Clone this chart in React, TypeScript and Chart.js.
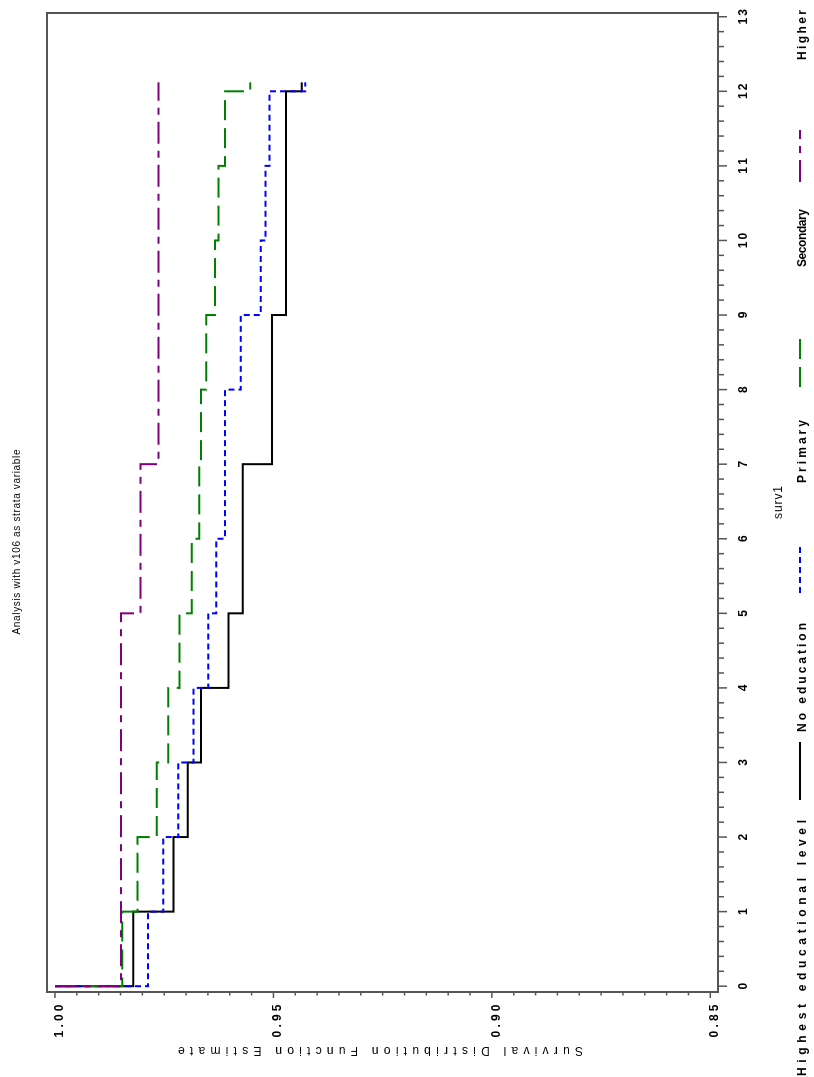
import React, { useEffect, useRef } from 'react';
import { Chart, registerables } from 'chart.js';

Chart.register(...registerables);

// ---------- data ----------
const noEduTimes = [0, 0, 1, 2, 3, 4, 5, 7, 9, 12, 12.12];
const noEduSurv = [1, 0.9821, 0.9729, 0.9696, 0.9666, 0.9603, 0.957, 0.9503, 0.9471, 0.9435, 0.9435];

const primaryTimes = [0, 0, 1, 2, 3, 4, 5, 6, 8, 9, 10, 11, 12, 12.12];
const primarySurv = [1, 0.9787, 0.9752, 0.9718, 0.9683, 0.9649, 0.9631, 0.9611, 0.9575, 0.9529, 0.9518, 0.9509, 0.9427, 0.9427];

const secondaryTimes = [0, 0, 1, 2, 3, 4, 5, 6, 7, 8, 9, 10, 11, 12, 12.12];
const secondarySurv = [1, 0.9846, 0.9811, 0.9767, 0.9741, 0.9715, 0.9687, 0.967, 0.9666, 0.9654, 0.9634, 0.9626, 0.9611, 0.9553, 0.9553];

const higherTimes = [0, 0, 5, 7, 12.12];
const higherSurv = [1, 0.9849, 0.9804, 0.9763, 0.9763];

const timeTickValues = [0, 1, 2, 3, 4, 5, 6, 7, 8, 9, 10, 11, 12, 13];
const timeTickLabels = ['0', '1', '2', '3', '4', '5', '6', '7', '8', '9', '10', '11', '12', '13'];
const survTickValues = [0.85, 0.9, 0.95, 1.0];
const survTickLabels = ['0.85', '0.90', '0.95', '1.00'];

const seriesNames = ['No education', 'Primary', 'Secondary', 'Higher'];
const legendTitle = 'Highest educational level';
const chartTitle = 'Analysis with v106 as strata variable';
const xTitle = 'surv1';
const yTitle = 'Survival Distribution Function Estimate';

// ---------- styles ----------
const colors = ['#000000', '#0000ff', '#008000', '#800080'];
const dashes: number[][] = [[], [6, 4], [20, 8], [22, 7, 7, 7]];
const FONT = '"Liberation Sans", Arial, sans-serif';
const axisColor = '#555555';

function toPoints(ts: number[], ss: number[]) {
  return ts.map((t, i) => ({ x: t, y: ss[i] }));
}

function drawText(
  ctx: CanvasRenderingContext2D,
  text: string,
  x: number,
  y: number,
  font: string,
  align: 'left' | 'center' | 'right',
  width?: number,
  color = '#000'
) {
  const c: any = ctx;
  ctx.font = font;
  if ('letterSpacing' in c) c.letterSpacing = '0px';
  const base = ctx.measureText(text).width;
  let sp = 0;
  if (width != null && text.length > 1 && 'letterSpacing' in c) sp = (width - base) / (text.length - 1);
  const total = base + sp * (text.length - 1);
  const sx = align === 'left' ? x : align === 'center' ? x - total / 2 : x - total;
  if ('letterSpacing' in c) c.letterSpacing = sp + 'px';
  ctx.textAlign = 'left';
  ctx.textBaseline = 'alphabetic';
  ctx.fillStyle = color;
  ctx.fillText(text, sx, y);
  if ('letterSpacing' in c) c.letterSpacing = '0px';
}

const sasAxes = {
  id: 'sasAxes',
  afterDraw(chart: any) {
    const ctx: CanvasRenderingContext2D = chart.ctx;
    const { left, right, top, bottom } = chart.chartArea;
    const xs = chart.scales.x;
    const ys = chart.scales.y;
    ctx.save();

    // frame
    ctx.strokeStyle = axisColor;
    ctx.lineWidth = 2;
    ctx.setLineDash([]);
    ctx.strokeRect(left, top, right - left, bottom - top);

    // time axis ticks (bottom)
    ctx.lineWidth = 1.5;
    for (let i = 0; i <= 65; i++) {
      const v = i * 0.2;
      const px = xs.getPixelForValue(v);
      const major = i % 5 === 0;
      ctx.beginPath();
      ctx.moveTo(px, bottom);
      ctx.lineTo(px, bottom + (major ? 9 : 6));
      ctx.stroke();
    }
    // survival axis ticks (left)
    for (let i = 0; i <= 30; i++) {
      const v = 0.85 + i * 0.005;
      const py = ys.getPixelForValue(v);
      const major = i % 10 === 0;
      ctx.beginPath();
      ctx.moveTo(left, py);
      ctx.lineTo(left - (major ? 6 : 3.5), py);
      ctx.stroke();
    }

    // tick labels
    const tickFont = 'bold 12px ' + FONT;
    timeTickValues.forEach((v, i) => {
      const lab = timeTickLabels[i];
      drawText(ctx, lab, xs.getPixelForValue(v), bottom + 29, tickFont, 'center', lab.length > 1 ? 15.5 : undefined);
    });
    survTickValues.forEach((v, i) => {
      drawText(ctx, survTickLabels[i], left - 29, ys.getPixelForValue(v) + 8, tickFont, 'center', 33);
    });

    // axis titles
    drawText(ctx, xTitle, (left + right) / 2, bottom + 64, '12px ' + FONT, 'center', 33);
    ctx.save();
    ctx.translate(30, (top + bottom) / 2 - 2);
    ctx.rotate(-Math.PI / 2);
    drawText(ctx, yTitle, 0, 0, '12px ' + FONT, 'center', 405);
    ctx.restore();

    // chart title
    drawText(ctx, chartTitle, 535, 20, '10px ' + FONT, 'center', 185);

    // legend
    const ly = 806;
    const lineY = 800;
    const legendFont = 'bold 12px ' + FONT;
    drawText(ctx, legendTitle, 1, ly, legendFont, 'left', 256);
    const items = [
      { line: [277, 335], text: [345, 109] },
      { line: [484, 532], text: [594, 63] },
      { line: [690, 739], text: [810, 58] },
      { line: [895, 947], text: [1017, 50] },
    ];
    items.forEach((it, i) => {
      ctx.strokeStyle = colors[i];
      ctx.lineWidth = 2;
      ctx.setLineDash(dashes[i]);
      ctx.beginPath();
      ctx.moveTo(it.line[0], lineY);
      ctx.lineTo(it.line[1], lineY);
      ctx.stroke();
      ctx.setLineDash([]);
      drawText(ctx, seriesNames[i], it.text[0], ly, legendFont, 'left', it.text[1]);
    });

    ctx.restore();
  },
};

export default function App() {
  const ref = useRef<HTMLCanvasElement | null>(null);

  useEffect(() => {
    document.body.style.margin = '0';
    const all = [
      { t: higherTimes, s: higherSurv, idx: 3 },
      { t: secondaryTimes, s: secondarySurv, idx: 2 },
      { t: primaryTimes, s: primarySurv, idx: 1 },
      { t: noEduTimes, s: noEduSurv, idx: 0 },
    ];
    const chart = new Chart(ref.current as HTMLCanvasElement, {
      type: 'line',
      data: {
        datasets: all.map((d) => ({
          label: seriesNames[d.idx],
          data: toPoints(d.t, d.s),
          borderColor: colors[d.idx],
          backgroundColor: colors[d.idx],
          borderWidth: 2,
          borderDash: dashes[d.idx],
          stepped: true,
          pointRadius: 0,
          fill: false,
          tension: 0,
        })),
      },
      options: {
        responsive: false,
        animation: false,
        devicePixelRatio: 1,
        layout: { padding: { left: 85, right: 13, top: 47, bottom: 96 } },
        scales: {
          x: { type: 'linear', display: false, min: -0.0777, max: 13.05 },
          y: { type: 'linear', display: false, min: 0.84824, max: 1.00183 },
        },
        plugins: {
          legend: { display: false },
          tooltip: { enabled: false },
          title: { display: false },
        },
      },
      plugins: [sasAxes],
    } as any);
    return () => chart.destroy();
  }, []);

  return (
    <div
      style={{
        position: 'fixed',
        left: 0,
        top: 0,
        width: 1077,
        height: 814,
        transformOrigin: '0 0',
        transform: 'translate(0px, 1077px) rotate(-90deg)',
        background: '#fff',
      }}
    >
      <canvas ref={ref} width={1077} height={814} style={{ display: 'block', width: 1077, height: 814 }} />
    </div>
  );
}
